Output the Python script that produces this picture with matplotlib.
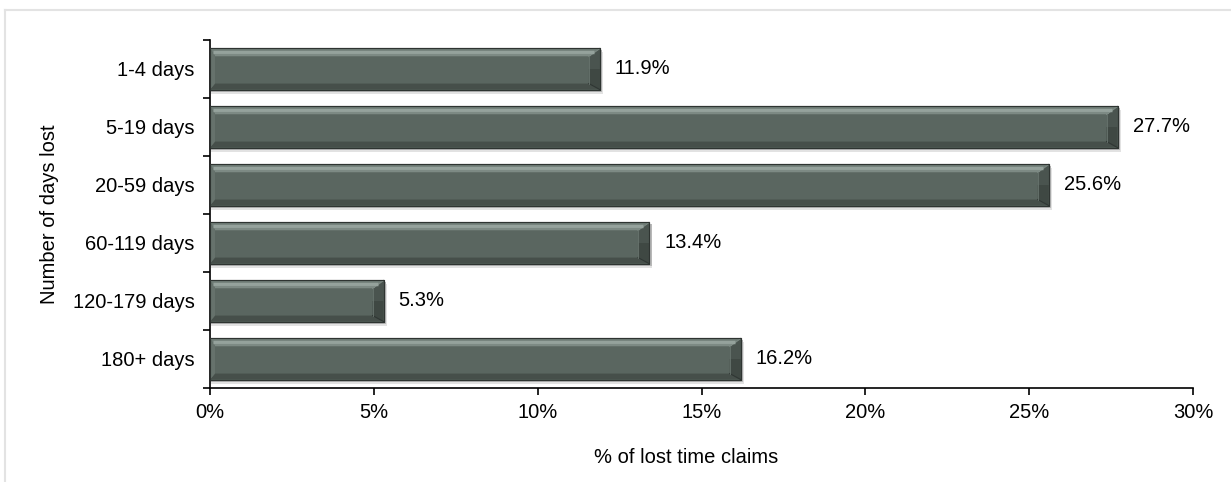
import matplotlib
matplotlib.use("Agg")
import matplotlib.pyplot as plt
from matplotlib.patches import Polygon, Rectangle
from matplotlib.lines import Line2D
import numpy as np

categories = ["1-4 days", "5-19 days", "20-59 days", "60-119 days", "120-179 days", "180+ days"]
values = [11.9, 27.7, 25.6, 13.4, 5.3, 16.2]
value_labels = ["11.9%", "27.7%", "25.6%", "13.4%", "5.3%", "16.2%"]
xticks = [0, 5, 10, 15, 20, 25, 30]
xtick_labels = ["0%", "5%", "10%", "15%", "20%", "25%", "30%"]

plt.rcParams['font.family'] = ['Liberation Sans', 'DejaVu Sans']
FS = 14.5

W, H = 1231, 482
fig = plt.figure(figsize=(W / 100, H / 100), dpi=100)
ax = fig.add_axes([210 / W, 1 - 388 / H, (1193 - 210) / W, (388 - 40) / H])

# figure border (only left and top visible)
fig.add_artist(Line2D([5 / W, 5 / W], [0, 1 - 10 / H], transform=fig.transFigure, color="#e3e3e3", lw=1.5))
fig.add_artist(Line2D([5 / W, 1], [1 - 10 / H, 1 - 10 / H], transform=fig.transFigure, color="#e3e3e3", lw=1.5))

ax.set_xlim(0, 30)
ax.set_ylim(len(categories) - 0.5, -0.5)

# pixel -> data conversions
axw_px = 1193 - 210
axh_px = 388 - 40
dxp = 30 / axw_px
dyp = len(categories) / axh_px

h = 0.71
ypos = np.arange(len(categories))

base = "#5a6660"
for i, v in zip(ypos, values):
    yt = i - h / 2
    yb = i + h / 2
    x0, x1 = 0.0, v
    # soft drop shadow
    ax.add_patch(Rectangle((x0 + 1 * dxp, yt + 4 * dyp), v + 2 * dxp, h, color="#e2e2e2", zorder=1, lw=0))
    ax.add_patch(Rectangle((x0 + 1 * dxp, yt + 2 * dyp), v + 1.5 * dxp, h, color="#b8b8b8", zorder=1, lw=0))
    # base
    ax.barh(i, v, height=h, color=base, edgecolor="#2e3431", linewidth=0.8, zorder=2)
    bl, br, bt, bb = 5 * dxp, 11 * dxp, 8 * dyp, 6 * dyp
    top = Polygon([(x0, yt), (x1, yt), (x1 - br, yt + bt), (x0 + bl, yt + bt)], closed=True, color="#6e7b75", lw=0, zorder=3)
    bot = Polygon([(x0, yb), (x1, yb), (x1 - br, yb - bb), (x0 + bl, yb - bb)], closed=True, color="#464f4a", lw=0, zorder=3)
    right_up = Polygon([(x1, yt), (x1, i), (x1 - br, i), (x1 - br, yt + bt)], closed=True, color="#4a544f", lw=0, zorder=3)
    right_lo = Polygon([(x1, i), (x1, yb), (x1 - br, yb - bb), (x1 - br, i)], closed=True, color="#3f4843", lw=0, zorder=3)
    left = Polygon([(x0, yt), (x0, yb), (x0 + bl, yb - bb), (x0 + bl, yt + bt)], closed=True, color="#66726c", lw=0, zorder=3)
    for p in (top, bot, right_up, right_lo, left):
        ax.add_patch(p)
    # bevel edge lines
    ax.plot([x1 - br, x1], [yt + bt, yt], color="#7c8983", lw=0.8, zorder=4)
    ax.plot([x1 - br, x1], [yb - bb, yb], color="#2f3633", lw=0.8, zorder=4)
    ax.plot([x1 - br, x1 - br], [yt + bt, yb - bb], color="#6a7670", lw=0.6, zorder=4)
    # highlight line in the top bevel
    ax.plot([x0 + 3 * dxp, x1 - 6 * dxp], [yt + 3.5 * dyp, yt + 3.5 * dyp], color="#95a29c", lw=2.5, zorder=4, solid_capstyle="butt")
    ax.plot([x0 + 5 * dxp, x1 - 9 * dxp], [yt + 6.5 * dyp, yt + 6.5 * dyp], color="#7d8a84", lw=1.5, zorder=4, solid_capstyle="butt")
    # outline
    ax.add_patch(Rectangle((x0, yt), v, h, fill=False, edgecolor="#2e3431", lw=0.8, zorder=5))

for i, v, lab in zip(ypos, values, value_labels):
    ax.text(v + 15 * dxp, i, lab, va="center", ha="left", fontsize=FS, color="#000000")

# axes styling
for s in ("top", "right"):
    ax.spines[s].set_visible(False)
ax.spines["left"].set_linewidth(1.2)
ax.spines["bottom"].set_linewidth(1.2)

ax.set_yticks(ypos)
ax.set_yticklabels(categories, fontsize=FS)
ax.set_yticks(np.arange(-0.5, len(categories) + 0.5, 1), minor=True)
ax.tick_params(axis="y", which="major", length=0, pad=11)
ax.tick_params(axis="y", which="minor", length=5, width=1.2, direction="out")

ax.set_xticks(xticks)
ax.set_xticklabels(xtick_labels, fontsize=FS)
ax.tick_params(axis="x", which="major", length=5, width=1.2, direction="out", pad=6)

ax.set_xlabel("% of lost time claims", fontsize=FS)
ax.xaxis.set_label_coords(0.484, -0.172)
ax.set_ylabel("Number of days lost", fontsize=FS)
ax.yaxis.set_label_coords(-0.154, 0.5)

fig.savefig("out.png", dpi=100)
